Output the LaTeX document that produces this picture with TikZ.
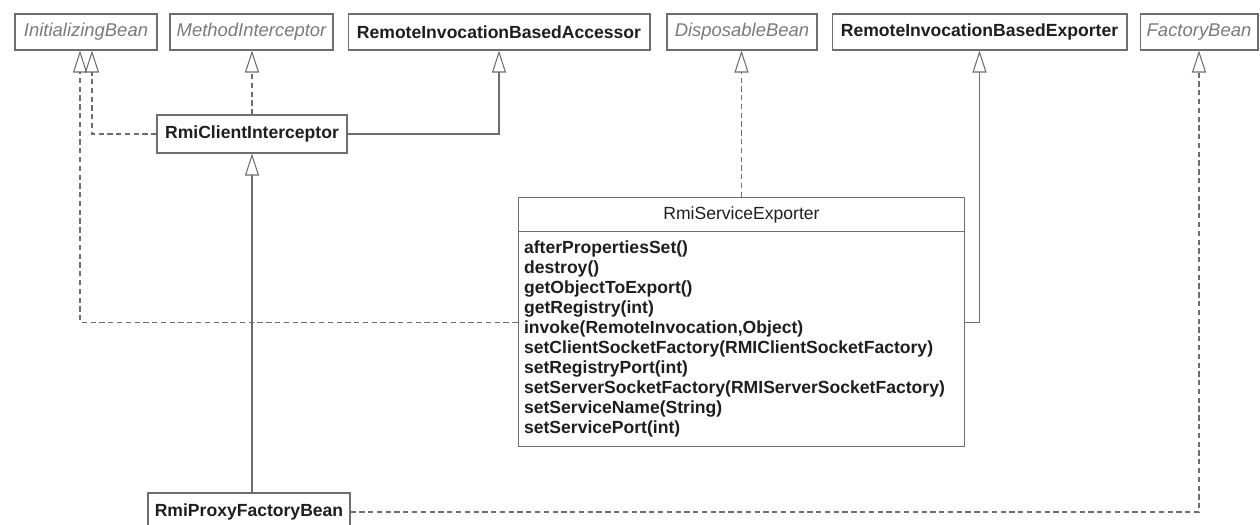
\documentclass[tikz,border=0pt]{standalone}
\usepackage{fontspec}
\setmainfont{Liberation Sans}
\usetikzlibrary{arrows.meta, shapes.multipart}
\definecolor{umlline}{HTML}{6E6E6E}
\definecolor{umltext}{HTML}{1E1E1E}
\definecolor{ifacetext}{HTML}{7A7A7A}
\tikzset{
  klass/.style = {rectangle, draw=umlline, line width=0.6pt, inner sep=2pt, minimum height=0.72cm, align=center, text=umltext, font=\fontsize{10}{12}\selectfont\bfseries},
  iface/.style = {klass, text=ifacetext, font=\fontsize{10.5}{12}\selectfont\itshape},
  extends/.style = {-{Triangle[open, length=0.44cm, width=0.28cm]}, draw=umlline, line width=0.6pt},
  realizes/.style = {extends, dash pattern=on 3pt off 2pt},
}

\begin{document}
\begin{tikzpicture}[x=0.02cm, y=-0.02cm]

    \useasboundingbox (0,0) rectangle (1260,524);

    % Interfaces and base classes
    \node (initBean) [iface, minimum width=2.84cm] at (86,32) {InitializingBean};
    \node (methodInt) [iface, minimum width=3.26cm] at (251.5,32) {MethodInterceptor};
    \node (accessor) [klass, minimum width=6.04cm] at (499,32) {RemoteInvocationBasedAccessor};
    \node (disposable) [iface, minimum width=3.0cm] at (742,32) {DisposableBean};
    \node (exporter) [klass, minimum width=5.9cm] at (979.5,32) {RemoteInvocationBasedExporter};
    \node (factoryBean) [iface, minimum width=2.36cm] at (1199,32) {FactoryBean};

    % Rmi classes
    \node (clientInt) [klass, minimum width=3.8cm, minimum height=0.76cm] at (252,134) {RmiClientInterceptor};
    \node (proxyBean) [klass, minimum width=4.04cm, minimum height=0.76cm] at (249,512) {RmiProxyFactoryBean};
    \node (serviceExp) [rectangle split, rectangle split parts=2, draw=umlline, line width=0.6pt,
        anchor=north, text width=8.7cm, inner xsep=0.12cm, inner ysep=0.17cm, align=left, text=umltext,
        font=\fontsize{10}{11.4}\selectfont\bfseries] at (741.5,197)
        {\makebox[\hsize]{\mdseries RmiServiceExporter}
         \nodepart{two}
         afterPropertiesSet()\\
         destroy()\\
         getObjectToExport()\\
         getRegistry(int)\\
         invoke(RemoteInvocation,Object)\\
         setClientSocketFactory(RMIClientSocketFactory)\\
         setRegistryPort(int)\\
         setServerSocketFactory(RMIServerSocketFactory)\\
         setServiceName(String)\\
         setServicePort(int)};

    % Arrows
    \draw [realizes] (clientInt.north) -- (clientInt.north |- methodInt.south);
    \draw [realizes] (clientInt.west) -| ([xshift=0.12cm]initBean.south);
    \draw [extends] (clientInt.east) -| (accessor.south);

    \draw [realizes] (serviceExp.west) -| ([xshift=-0.12cm]initBean.south);
    \draw [realizes] (serviceExp.north) -- (serviceExp.north |- disposable.south);
    \draw [extends] (serviceExp.east) -| (exporter.south);

    \draw [extends] (proxyBean.north -| clientInt.south) -- (clientInt.south);
    \draw [realizes] (proxyBean.east) -| (factoryBean.south);

\end{tikzpicture}
\end{document}
